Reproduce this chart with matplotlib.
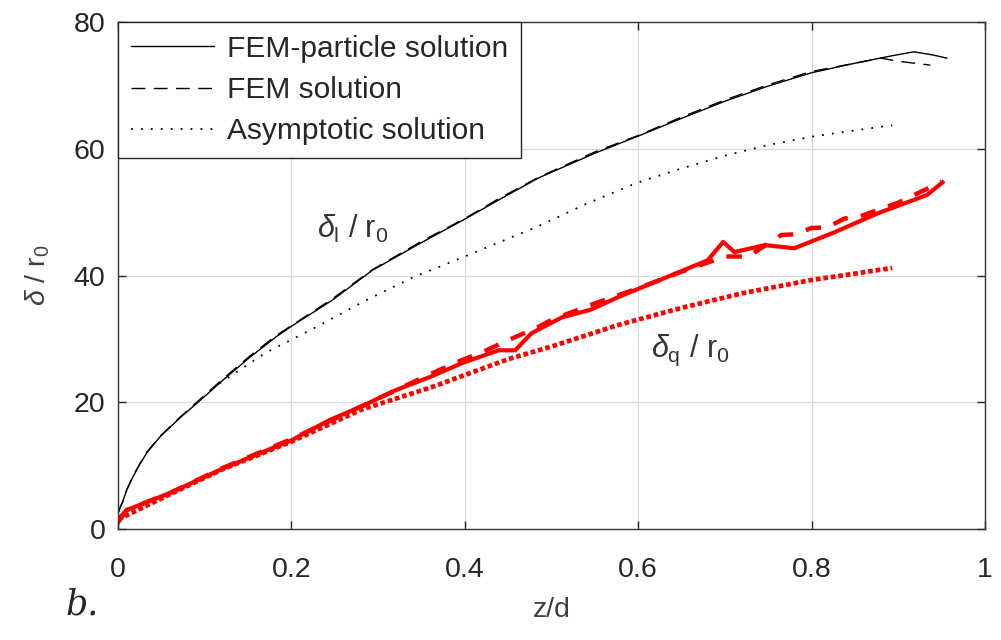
import matplotlib
matplotlib.use("Agg")
import matplotlib.pyplot as plt
import numpy as np

plt.rcParams['font.family'] = ['Liberation Sans', 'DejaVu Sans']
plt.rcParams['mathtext.fontset'] = 'custom'
plt.rcParams['mathtext.rm'] = 'Liberation Sans'
plt.rcParams['mathtext.it'] = 'Liberation Sans:italic'

# delta_l / r0 (black)
xl_part = [0, 0.002, 0.005, 0.01, 0.017, 0.025, 0.033, 0.048, 0.071, 0.098, 0.121, 0.152, 0.182, 0.2,
           0.247, 0.293, 0.35, 0.4, 0.44, 0.485, 0.55, 0.6, 0.65, 0.7, 0.75, 0.8, 0.85, 0.89,
           0.918, 0.94, 0.956]
yl_part = [2.5, 3.3, 4.2, 6.2, 8.2, 10.2, 12, 14.5, 17.5, 20.7, 23.5, 27.1, 30.3, 32,
           36.1, 40.8, 45.2, 48.9, 52, 55.4, 59.3, 62, 64.8, 67.5, 69.9, 72, 73.5, 74.6,
           75.3, 74.8, 74.3]
xl_fem = [0, 0.002, 0.005, 0.01, 0.017, 0.025, 0.033, 0.048, 0.071, 0.098, 0.121, 0.152, 0.182, 0.2,
          0.247, 0.293, 0.35, 0.4, 0.44, 0.485, 0.55, 0.6, 0.65, 0.7, 0.75, 0.8, 0.85, 0.88,
          0.9, 0.937]
yl_fem = [2.5, 3.3, 4.2, 6.2, 8.3, 10.3, 12.1, 14.6, 17.6, 20.9, 23.7, 27.3, 30.5, 32.1,
          36.3, 40.9, 45.4, 49.0, 52.2, 55.5, 59.5, 62.1, 65.0, 67.7, 70.1, 72.2, 73.5, 74.3,
          73.8, 73.2]
xl_asym = [0.117, 0.17, 0.229, 0.286, 0.34, 0.4, 0.439, 0.485, 0.54, 0.598, 0.65, 0.7, 0.75, 0.8, 0.85, 0.893]
yl_asym = [23, 27.8, 31.9, 36.1, 39.7, 43.0, 45.2, 47.8, 51.3, 54.6, 56.9, 58.9, 60.6, 61.9, 62.9, 63.7]

# delta_q / r0 (red)
xq_part = [0, 0.01, 0.06, 0.12, 0.2, 0.244, 0.28, 0.32, 0.36, 0.397, 0.439, 0.458, 0.477, 0.512,
           0.545, 0.577, 0.634, 0.68, 0.698, 0.711, 0.746, 0.78, 0.826, 0.876, 0.933, 0.951]
yq_part = [1, 3, 5.7, 9.5, 14.0, 17.2, 19.3, 21.9, 24.0, 26.2, 28.2, 28.2, 30.9, 33.4,
           34.6, 36.6, 39.8, 42.4, 45.3, 43.7, 44.8, 44.3, 46.8, 49.8, 52.7, 54.7]
xq_fem = [0, 0.01, 0.03, 0.06, 0.12, 0.2, 0.3, 0.35, 0.39, 0.42, 0.45, 0.482, 0.5, 0.55, 0.6,
          0.65, 0.7, 0.727, 0.765, 0.78, 0.8, 0.818, 0.838, 0.853, 0.9, 0.95]
yq_fem = [1.5, 3, 4.1, 5.7, 9.6, 14.2, 20.6, 23.8, 26.3, 27.9, 29.8, 31.7, 33.0, 35.6, 38.0,
          40.6, 43.0, 43.0, 46.4, 46.5, 47.5, 47.6, 49.0, 49.2, 51.5, 54.8]
xq_asym = [0, 0.06, 0.12, 0.2, 0.28, 0.362, 0.45, 0.5, 0.577, 0.65, 0.72, 0.8, 0.85, 0.893]
yq_asym = [1.5, 5.5, 9.4, 13.8, 18.8, 22.4, 26.8, 28.8, 32.2, 34.9, 37.2, 39.3, 40.3, 41.2]

xticks = [0, 0.2, 0.4, 0.6, 0.8, 1]
yticks = [0, 20, 40, 60, 80]

fs = 20.5

fig = plt.figure(figsize=(10.01, 6.4), dpi=100)
ax = fig.add_axes([0.118, 0.1734, 0.866, 0.7922])

ax.plot(xl_part, yl_part, color='k', lw=1.0, ls='-', label='FEM-particle solution')
ax.plot(xl_fem, yl_fem, color='k', lw=1.0, ls=(0, (10, 6)), label='FEM solution')
ax.plot(xl_asym, yl_asym, color='k', lw=1.3, ls=(0, (1, 4.5)), label='Asymptotic solution')

ax.plot(xq_asym, yq_asym, color='red', lw=3.4, ls=(0, (1, 0.6)))
ax.plot(xq_fem, yq_fem, color='red', lw=3.2, ls=(0, (3.5, 3)))
ax.plot(xq_part, yq_part, color='red', lw=3.0, ls='-')

ax.set_xlim(0, 1)
ax.set_ylim(0, 80)
ax.set_xticks(xticks)
ax.set_xticklabels(['%g' % t for t in xticks])
ax.set_yticks(yticks)
ax.grid(True, color='0.85', lw=0.9)
ax.set_axisbelow(True)
ax.tick_params(direction='in', length=6, width=1, colors='0.15', labelsize=fs,
               top=True, right=True)
ax.tick_params(axis='x', pad=20)
ax.tick_params(axis='y', pad=9)
for s in ax.spines.values():
    s.set_color('0.2')
    s.set_linewidth(1.0)

ax.set_xlabel('z/d', fontsize=fs, color='0.25', labelpad=10)
ax.set_ylabel(r'$\delta$ / r$_\mathregular{0}$', fontsize=fs, color='0.25', labelpad=16)

ax.text(0.229, 45.9, r'$\delta_\mathregular{l}$ / r$_\mathregular{0}$', fontsize=22,
        color='0.2', va='baseline')
ax.text(0.615, 27.1, r'$\delta_\mathregular{q}$ / r$_\mathregular{0}$', fontsize=22,
        color='0.2', va='baseline')

fig.text(0.065, 0.04, 'b.', fontsize=25, family='DejaVu Serif', style='italic', color='0.15')

leg = ax.legend(loc='upper left', fontsize=21.5, frameon=True, fancybox=False,
                borderaxespad=0, handlelength=2.8, handletextpad=0.43,
                borderpad=0.42, labelspacing=0.45)
leg.get_frame().set_edgecolor('0.15')
leg.get_frame().set_linewidth(1.0)
leg.get_frame().set_alpha(1)
for t in leg.get_texts():
    t.set_color('0.15')

fig.savefig('out.png', dpi=100)
